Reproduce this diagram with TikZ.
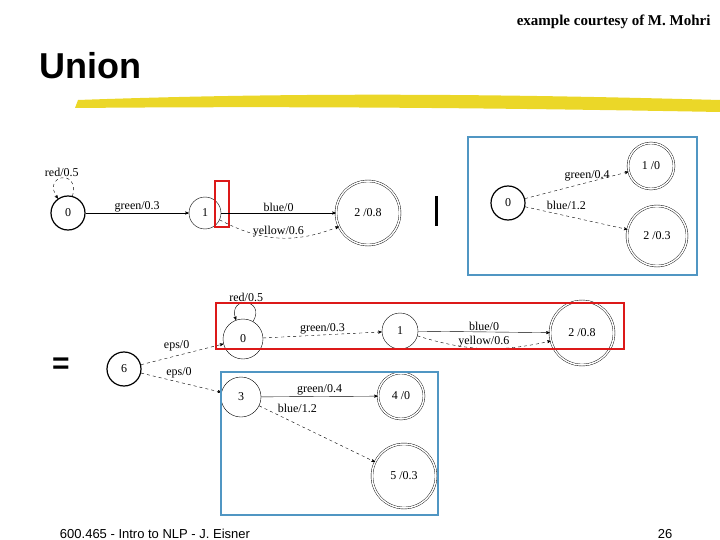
\documentclass[tikz,border=0pt]{standalone}
\usepackage{fontspec}
\setmainfont{Liberation Serif}
\setsansfont{Liberation Sans}
\usetikzlibrary{arrows,shapes.geometric}
\definecolor{boxblue}{RGB}{80,150,195}
\definecolor{boxred}{RGB}{220,25,25}
\definecolor{brush}{RGB}{235,215,40}
\begin{document}
\begin{tikzpicture}[x=1pt,y=-1pt,->,>=stealth',
                    state/.style={circle,draw,thin,inner sep=0pt,minimum size=32pt,font=\fontsize{12}{14}\selectfont},
                    start/.style={state,very thick,minimum size=34pt},
                    final/.style={state,double,double distance=1.5pt,minimum size=60pt},
                    lab/.style={font=\fontsize{12}{14}\selectfont,inner sep=1pt},
                    frame/.style={line width=1.6pt,-}]
\useasboundingbox (0,0) rectangle (720,540);
% Slide texts
\node[font=\bfseries\fontsize{15}{17}\selectfont,anchor=east] (credit) at (714,22) {example courtesy of M. Mohri};
\node[font=\sffamily\bfseries\fontsize{36}{38}\selectfont,anchor=west] (title) at (36,66) {Union};
\fill[brush,-] (78,100) .. controls (300,92) and (500,94) .. (720,100) -- (720,112) .. controls (500,108) and (300,106) .. (75,108) -- cycle;
\node[font=\sffamily\fontsize{13}{15}\selectfont] (footer) at (155,534) {600.465 - Intro to NLP - J. Eisner};
\node[font=\sffamily\fontsize{13}{15}\selectfont] (page) at (665,534) {26};

% First machine
\node[start] (a0) at (68,213) {0};
\node[state] (a1) at (205,213) {1};
\node[final,minimum size=64pt] (a2) at (368,213) {2 /0.8};
\draw[boxred,frame] (215,181) rectangle (229,227);
\draw[line width=3pt,-] (436,196) -- (436,226);
\path[every node/.style={lab}]
(a0) edge [out=75,in=125,looseness=5,dashed] node [above] {red/0.5} (a0)
(a0) edge node [above] {green/0.3} (a1)
(a1) edge node [above] {blue/0} (a2)
(a1) edge [bend right=25,dashed] node [above] {yellow/0.6} (a2);

% Second machine
\draw[boxblue,frame] (468,137) rectangle (697,275);
\node[start] (b0) at (508,203) {0};
\node[final,minimum size=46pt] (b1) at (651,166) {1 /0};
\node[final] (b2) at (657,236) {2 /0.3};
\path[every node/.style={lab}]
(b0) edge [dashed] node [above,pos=0.6] {green/0.4} (b1)
(b0) edge [dashed] node [above right,pos=0.2] {blue/1.2} (b2);

% Union
\node[font=\sffamily\bfseries\fontsize{30}{32}\selectfont] (eq) at (61,366) {=};
\node[start] (c6) at (124,369) {6};
\node[state,minimum size=40pt] (c0) at (243,339) {0};
\node[state,minimum size=36pt] (c1) at (400,331) {1};
\node[final,minimum size=64pt] (c2) at (582,333) {2 /0.8};
\node[state,minimum size=40pt] (c3) at (241,397) {3};
\node[final,minimum size=46pt] (c4) at (401,396) {4 /0};
\node[final,minimum size=64pt] (c5) at (404,476) {5 /0.3};
\path[every node/.style={lab}]
(c6) edge [dashed] node [above left,pos=0.6] {eps/0} (c0)
(c6) edge [dashed] node [above right,pos=0.3] {eps/0} (c3)
(c0) edge [out=60,in=110,looseness=4] node [above] {red/0.5} (c0)
(c0) edge [dashed] node [above] {green/0.3} (c1)
(c1) edge node [above] {blue/0} (c2)
(c1) edge [bend right=15,dashed] node [above] {yellow/0.6} (c2)
(c3) edge node [above] {green/0.4} (c4)
(c3) edge [dashed] node [above right,pos=0.15] {blue/1.2} (c5);
\draw[boxred,frame] (216,303) rectangle (624,349);
\draw[boxblue,frame] (221,372) rectangle (438,515);
\end{tikzpicture}
\end{document}
